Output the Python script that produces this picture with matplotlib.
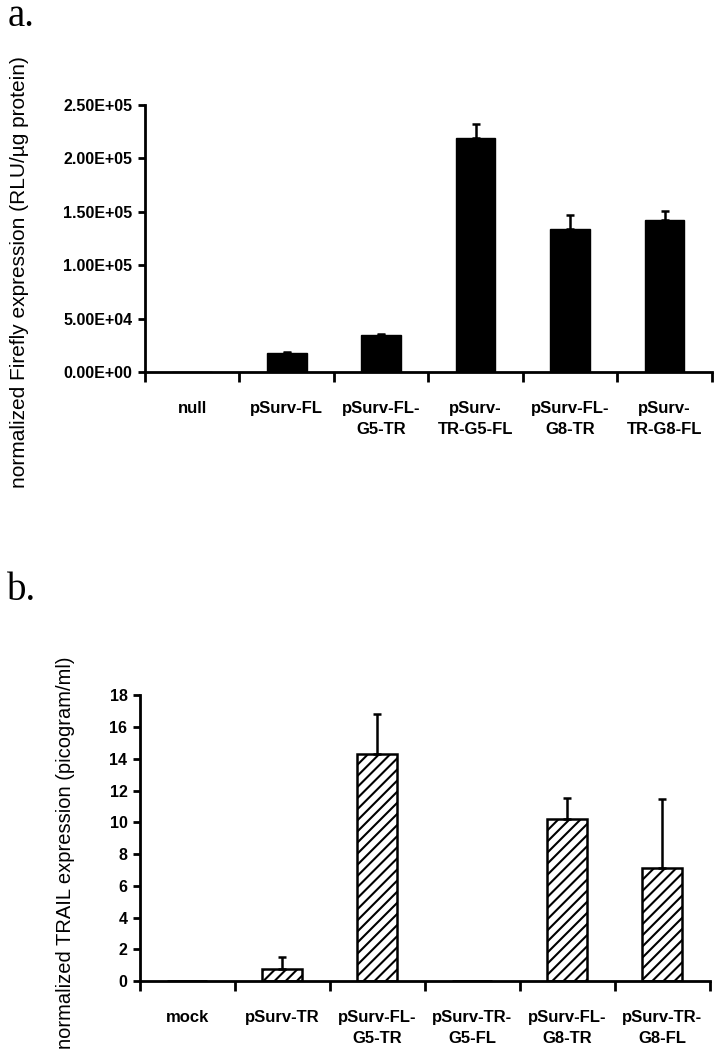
import numpy as np
import matplotlib
matplotlib.use("Agg")
import matplotlib.pyplot as plt

# panel a data: Firefly luciferase expression
labels_a = ["null", "pSurv-FL", "pSurv-FL-\nG5-TR", "pSurv-\nTR-G5-FL",
            "pSurv-FL-\nG8-TR", "pSurv-\nTR-G8-FL"]
firefly = [0, 1.75e4, 3.44e4, 2.19e5, 1.34e5, 1.42e5]
firefly_err = [0, 0.15e4, 0.16e4, 1.3e4, 1.3e4, 0.9e4]
yticks_a = [0, 5e4, 1e5, 1.5e5, 2e5, 2.5e5]
yticklabels_a = ["0.00E+00", "5.00E+04", "1.00E+05", "1.50E+05", "2.00E+05", "2.50E+05"]

# panel b data: TRAIL expression
labels_b = ["mock", "pSurv-TR", "pSurv-FL-\nG5-TR", "pSurv-TR-\nG5-FL",
            "pSurv-FL-\nG8-TR", "pSurv-TR-\nG8-FL"]
trail = [0, 0.75, 14.3, 0, 10.2, 7.15]
trail_err = [0, 0.75, 2.55, 0, 1.35, 4.3]
yticks_b = [0, 2, 4, 6, 8, 10, 12, 14, 16, 18]

plt.rcParams['hatch.linewidth'] = 1.5
tick_font = ['Liberation Sans Narrow', 'Liberation Sans', 'DejaVu Sans']
label_font = ['Liberation Sans', 'DejaVu Sans']
letter_font = ['Liberation Serif', 'DejaVu Serif']

fig = plt.figure(figsize=(7.14, 10.5), dpi=100)
ax_a = fig.add_axes([0.203, 0.6457, 0.794, 0.2543])
ax_b = fig.add_axes([0.196, 0.0657, 0.798, 0.272])


def style_axes(ax, labels, ymax):
    n = len(labels)
    x = np.arange(n)
    ax.set_xlim(-0.5, n - 0.5)
    ax.set_ylim(0, ymax)
    for s in ['top', 'right']:
        ax.spines[s].set_visible(False)
    for s in ['left', 'bottom']:
        ax.spines[s].set_linewidth(2)
    # category boundary ticks (Excel style)
    ax.set_xticks(np.arange(n + 1) - 0.5)
    ax.set_xticklabels([])
    ax.tick_params(axis='x', which='major', direction='out', length=7, width=2)
    ax.set_xticks(x, minor=True)
    ax.set_xticklabels(labels, minor=True, fontsize=12, fontweight='bold',
                       family=tick_font, linespacing=1.45, va='top')
    ax.tick_params(axis='x', which='minor', length=0, pad=21)
    ax.tick_params(axis='y', direction='out', length=5, width=2, pad=4)
    return x


x = style_axes(ax_a, labels_a, 2.5e5)
ax_a.bar(x, firefly, width=0.42, color='black', edgecolor='black', zorder=2)
for xi, v, e in zip(x, firefly, firefly_err):
    if v > 0:
        ax_a.errorbar(xi, v, yerr=[[0], [e]], color='black', lw=1.8,
                      capsize=3, capthick=1.8, zorder=3)
ax_a.set_yticks(yticks_a)
ax_a.set_yticklabels(yticklabels_a, fontsize=11.5, fontweight='bold', family=tick_font)

x = style_axes(ax_b, labels_b, 18)
ax_b.bar(x, trail, width=0.42, color='white', edgecolor='black', hatch='///',
         linewidth=1.8, zorder=2)
for xi, v, e in zip(x, trail, trail_err):
    if v > 0:
        ax_b.errorbar(xi, v, yerr=[[0], [e]], color='black', lw=1.8,
                      capsize=3, capthick=1.8, zorder=3)
ax_b.set_yticks(yticks_b)
ax_b.set_yticklabels([str(t) for t in yticks_b], fontsize=11.5, fontweight='bold',
                     family=tick_font)

fig.text(20 / 714, 1 - 272 / 1050, "normalized Firefly expression (RLU/\u00b5g protein)",
         rotation=90, ha='center', va='center', fontsize=15, family=label_font)
fig.text(66 / 714, 1 - 853 / 1050, "normalized TRAIL expression (picogram/ml)",
         rotation=90, ha='center', va='center', fontsize=14.5, family=label_font)

fig.text(0.010, 1 - 17 / 1050, "a.", ha='left', va='center', fontsize=28,
         family=letter_font)
fig.text(0.010, 1 - 590 / 1050, "b.", ha='left', va='center', fontsize=28,
         family=letter_font)

fig.savefig("out.png", dpi=100)
